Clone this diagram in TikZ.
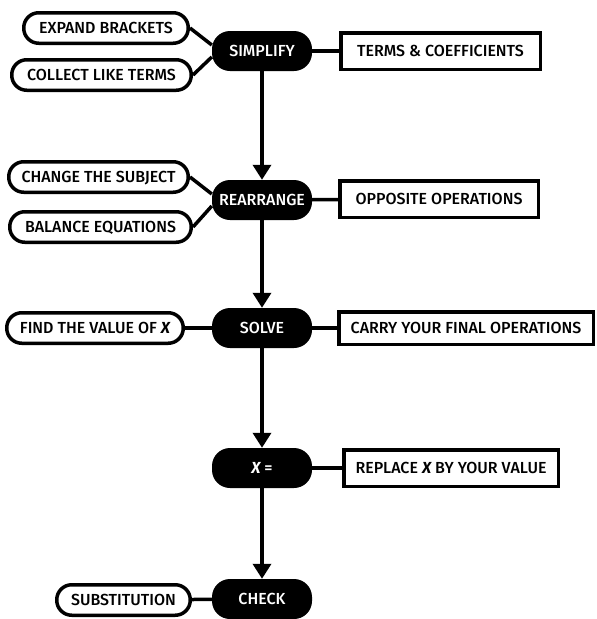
\documentclass[tikz,border=0pt]{standalone}
\usepackage{fontspec}
\setmainfont{Fira Sans}[UprightFont=* Medium,BoldItalicFont=* Bold Italic]
\usepackage{tikz}
\usetikzlibrary{arrows.meta}
\tikzset{bk/.style={fill=black,text=white,rounded corners=18pt,minimum width=100pt,minimum height=40pt,inner sep=0pt,text height=11pt,text depth=0pt}}
\tikzset{pl/.style={draw,line width=3.5pt,fill=white,rounded corners=15pt,minimum height=30.5pt,inner sep=0pt,text height=11pt,text depth=0pt}}
\tikzset{bx/.style={draw,line width=3.5pt,fill=white,minimum height=36.5pt,inner sep=0pt,text height=11pt,text depth=0pt}}
\tikzset{ln/.style={line width=3.5pt}}
\tikzset{ar/.style={line width=3.5pt,{Triangle[width=18pt,length=15pt]}-}}
\newcommand{\vx}{{\bfseries\itshape X}}

\begin{document}
\begin{tikzpicture}[x=1pt,y=-1pt]
        \useasboundingbox (0,0) rectangle (597,619);
        \begin{scope}[font=\fontsize{16}{16}\selectfont]
          \node[bk] (simplify) at (262,51) {SIMPLIFY};
          \node[bx,minimum width=199.5pt] (terms) at (440.5,51) {TERMS \& COEFFICIENTS}
            edge [ln] (simplify);
          \node[pl,minimum width=164.5pt] (expand) at (106,28) {EXPAND BRACKETS};
          \node[pl,minimum width=179.5pt] (collect) at (101.5,75) {COLLECT LIKE TERMS};
          \draw[ln] (expand.east) -- ([yshift=6pt]simplify.west);
          \draw[ln] (collect.east) -- ([yshift=-6pt]simplify.west);
          \node[bk] (rearrange) at (262,200) {REARRANGE}
            edge [ar] (simplify);
          \node[bx,minimum width=198.5pt] (opposite) at (439,199) {OPPOSITE OPERATIONS}
            edge [ln] (rearrange);
          \node[pl,minimum width=179.5pt] (subject) at (98.5,177) {CHANGE THE SUBJECT};
          \node[pl,minimum width=181.5pt] (balance) at (100.5,227) {BALANCE EQUATIONS};
          \draw[ln] (subject.east) -- ([yshift=6pt]rearrange.west);
          \draw[ln] (balance.east) -- ([yshift=-6pt]rearrange.west);
          \node[bk] (solve) at (262,328) {SOLVE}
            edge [ar] (rearrange);
          \node[bx,minimum width=254.5pt,minimum height=32.5pt] (carry) at (466,328) {CARRY YOUR FINAL OPERATIONS}
            edge [ln] (solve);
          \node[pl,minimum width=176.5pt] (value) at (95,328) {FIND THE VALUE OF \vx}
            edge [ln] (solve);
          \node[bk] (xeq) at (262,468) {\vx\ =}
            edge [ar] (solve);
          \node[bx,minimum width=214.5pt] (replace) at (451,468) {REPLACE \vx\ BY YOUR VALUE}
            edge [ln] (xeq);
          \node[bk] (check) at (262,599) {CHECK}
            edge [ar] (xeq);
          \node[pl,minimum width=133.5pt] (subst) at (123.5,600) {SUBSTITUTION}
            edge [ln] (check);
        \end{scope}
      \end{tikzpicture}
\end{document}
